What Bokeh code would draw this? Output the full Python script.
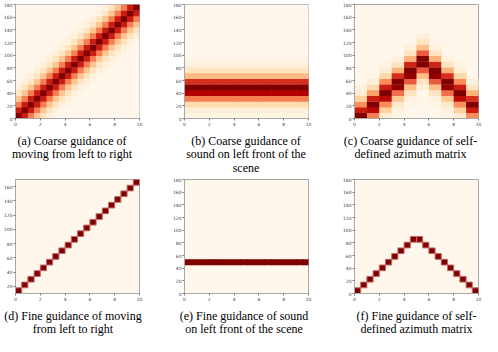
import numpy as np
from bokeh.plotting import figure
from bokeh.models import ColumnDataSource, LinearColorMapper, FixedTicker, Range1d
from bokeh.layouts import row, column
from bokeh.transform import transform
from bokeh.core.properties import value
from bokeh.palettes import OrRd9
from bokeh.embed import file_html
from bokeh.resources import INLINE

# ---------------- data ----------------
x_tick_values = [0, 2, 4, 6, 8, 10]
y_tick_values = [0, 20, 40, 60, 80, 100, 120, 140, 160, 180]
y_tick_values_d = [20, 40, 60, 80, 100, 120, 140, 160]

# (a) coarse guidance of moving left -> right: intensity by |row - column|
lr_band = [1.0, 0.8, 0.55, 0.32, 0.15, 0.06, 0.02]
lr_cells = 20

# (b) coarse guidance of sound on left front: intensity per row (rows 0..19)
front_profile = [0.03, 0.07, 0.2, 0.55, 0.88, 1.0, 0.75, 0.37, 0.15, 0.06,
                 0.02, 0, 0, 0, 0, 0, 0, 0, 0, 0]
front_cols = 10

# (c) coarse self-defined azimuth matrix: intensity per row for each of 10 columns
az_coarse = [
    [1.0, 0.8, 0.5, 0.25, 0.1, 0.04],
    [0.55, 0.85, 1.0, 0.8, 0.45, 0.2, 0.07, 0.02],
    [0.1, 0.25, 0.5, 0.85, 1.0, 0.8, 0.5, 0.22, 0.08, 0.03],
    [0.02, 0.05, 0.12, 0.3, 0.6, 0.95, 1.0, 0.75, 0.4, 0.15, 0.05],
    [0, 0, 0.02, 0.05, 0.15, 0.35, 0.65, 0.95, 1.0, 0.78, 0.4, 0.15, 0.05],
    [0, 0, 0, 0, 0, 0.06, 0.15, 0.35, 0.65, 1.0, 1.0, 0.65, 0.35, 0.15, 0.06],
    [0, 0, 0.02, 0.05, 0.15, 0.35, 0.65, 0.95, 1.0, 0.78, 0.4, 0.15, 0.05],
    [0.02, 0.05, 0.12, 0.3, 0.6, 0.95, 1.0, 0.75, 0.4, 0.15, 0.05],
    [0.1, 0.25, 0.5, 0.85, 1.0, 0.8, 0.5, 0.22, 0.08, 0.03],
    [0.5, 0.8, 1.0, 0.75, 0.4, 0.15, 0.05],
]

# (d) fine guidance of moving: active row per column
fine_lr_rows = [0, 1, 2, 3, 4, 5, 6, 7, 8, 9, 10, 11, 12, 13, 14, 15, 16, 17, 18, 19]
# (e) fine guidance of sound on left front: active row
fine_front_row = 5
fine_front_cols = 20
# (f) fine self-defined azimuth: active row per column
fine_az_rows = [0, 1, 2, 3, 4, 5, 6, 7, 8, 9, 9, 8, 7, 6, 5, 4, 3, 2, 1, 0]

captions_top = [
    ["(a) Coarse guidance of", "moving from left to right"],
    ["(b) Coarse guidance of", "sound on left front of the", "scene"],
    ["(c) Coarse guidance of self-", "defined azimuth matrix"],
]
captions_bottom = [
    ["(d) Fine guidance of moving", "from left to right"],
    ["(e) Fine guidance of sound", "on left front of the scene"],
    ["(f) Fine guidance of self-", "defined azimuth matrix"],
]

# ---------------- styling / layout ----------------
stops = list(reversed(OrRd9))
rgb = np.array([[int(c[i:i + 2], 16) for i in (1, 3, 5)] for c in stops], float)
pos = np.linspace(0, 1, len(stops))
tt = np.linspace(0, 1, 256)
palette = ['#%02x%02x%02x' % tuple(int(round(np.interp(t, pos, rgb[:, k]))) for k in range(3)) for t in tt]
mapper = LinearColorMapper(palette=palette, low=0, high=1)
BG = stops[0]
DARK = stops[-1]
FRAME_W = 127
FRAME_H = 114
SERIF = "Liberation Serif"
TOTAL_W = 482
LEFT, TOP, BOTTOM = 12, 4, 10
RIGHTS = [30, 31, 4]
CAP1_H, CAP2_H = 47, 33
CAP_X_TOP = [71.5, 245.5, 410]
CAP_X_BOT = [72.5, 243.5, 416]
CAP_LINE_Y = [12, 25.5, 39]


def make_fig(right, yr, yticks):
    p = figure(width=LEFT + FRAME_W + right, height=TOP + FRAME_H + BOTTOM,
               x_range=(0, 10), y_range=yr,
               output_backend="svg", toolbar_location=None,
               min_border_left=LEFT, min_border_right=right,
               min_border_top=TOP, min_border_bottom=BOTTOM)
    p.grid.visible = False
    p.background_fill_color = BG
    p.border_fill_color = "white"
    p.outline_line_color = "#a8a8a8"
    p.xaxis.ticker = FixedTicker(ticks=x_tick_values)
    p.yaxis.ticker = FixedTicker(ticks=yticks)
    for ax in p.axis:
        ax.axis_line_color = "#a8a8a8"
        ax.major_tick_line_color = "#777777"
        ax.major_tick_out = 2
        ax.major_tick_in = 0
        ax.minor_tick_line_color = None
        ax.major_label_text_font = "DejaVu Sans"
        ax.major_label_text_font_size = "4.5px"
        ax.major_label_text_color = "#444444"
        ax.major_label_standoff = 1
    return p


def add_grid(p, cols, rows, vals, cw, rh, y0=0):
    src = ColumnDataSource(dict(x=[(c + 0.5) * cw for c in cols],
                                y=[y0 + (r + 0.5) * rh for r in rows], v=vals))
    p.rect("x", "y", width=cw, height=rh, source=src, dilate=True,
           fill_color=transform("v", mapper), line_color=None)


def add_cells(p, cols, rows, cw, rh, y0=0, rim=True):
    src = ColumnDataSource(dict(x=[(c + 0.5) * cw for c in cols],
                                y=[y0 + (r + 0.5) * rh for r in rows]))
    if rim:
        p.rect("x", "y", width=cw, height=rh, source=src, fill_color=DARK,
               line_color="#c46a6a", line_width=1)
    else:
        p.rect("x", "y", width=cw, height=rh, source=src, fill_color=DARK,
               line_color=None, dilate=True)


def caption_strip(caps, xs, height):
    p = figure(width=TOTAL_W, height=height, x_range=Range1d(0, TOTAL_W),
               y_range=Range1d(height, 0), output_backend="svg", toolbar_location=None,
               min_border=0)
    p.axis.visible = False
    p.grid.visible = False
    p.outline_line_color = None
    p.background_fill_color = "white"
    tx, ty, tt_ = [], [], []
    for lines, x in zip(caps, xs):
        for line, y in zip(lines, CAP_LINE_Y):
            tx.append(x); ty.append(y); tt_.append(line)
    p.text(x=tx, y=ty, text=tt_, text_font=value(SERIF), text_font_size=value("12px"),
           text_align="center", text_baseline="middle", text_color="black")
    return p


# (a)
pa = make_fig(RIGHTS[0], (0, 180), y_tick_values)
cols, rows, vals = [], [], []
for c in range(lr_cells):
    for r in range(lr_cells):
        d = abs(r - c)
        cols.append(c); rows.append(r)
        vals.append(lr_band[d] if d < len(lr_band) else 0.0)
add_grid(pa, cols, rows, vals, 10 / lr_cells, 180 / lr_cells)

# (b)
pb = make_fig(RIGHTS[1], (0, 180), y_tick_values)
cols, rows, vals = [], [], []
for c in range(front_cols):
    for r, v in enumerate(front_profile):
        cols.append(c); rows.append(r); vals.append(v)
add_grid(pb, cols, rows, vals, 10 / front_cols, 180 / len(front_profile))

# (c)
pc = make_fig(RIGHTS[2], (0, 180), y_tick_values)
cols, rows, vals = [], [], []
for c, prof in enumerate(az_coarse):
    for r, v in enumerate(prof):
        cols.append(c); rows.append(r); vals.append(v)
add_grid(pc, cols, rows, vals, 10 / len(az_coarse), 9)

# (d)
pd_ = make_fig(RIGHTS[0], (10, 170), y_tick_values_d)
add_cells(pd_, list(range(len(fine_lr_rows))), fine_lr_rows, 10 / len(fine_lr_rows), 8, y0=10)

# (e)
pe = make_fig(RIGHTS[1], (0, 180), y_tick_values)
add_cells(pe, list(range(fine_front_cols)), [fine_front_row] * fine_front_cols,
          10 / fine_front_cols, 9, rim=False)

# (f)
pf = make_fig(RIGHTS[2], (0, 180), y_tick_values)
add_cells(pf, list(range(len(fine_az_rows))), fine_az_rows, 10 / len(fine_az_rows), 9)

cap1 = caption_strip(captions_top, CAP_X_TOP, CAP1_H)
cap2 = caption_strip(captions_bottom, CAP_X_BOT, CAP2_H)

layout = column(row(pa, pb, pc), cap1, row(pd_, pe, pf), cap2)
open("out.html", "w").write(file_html(layout, INLINE))
